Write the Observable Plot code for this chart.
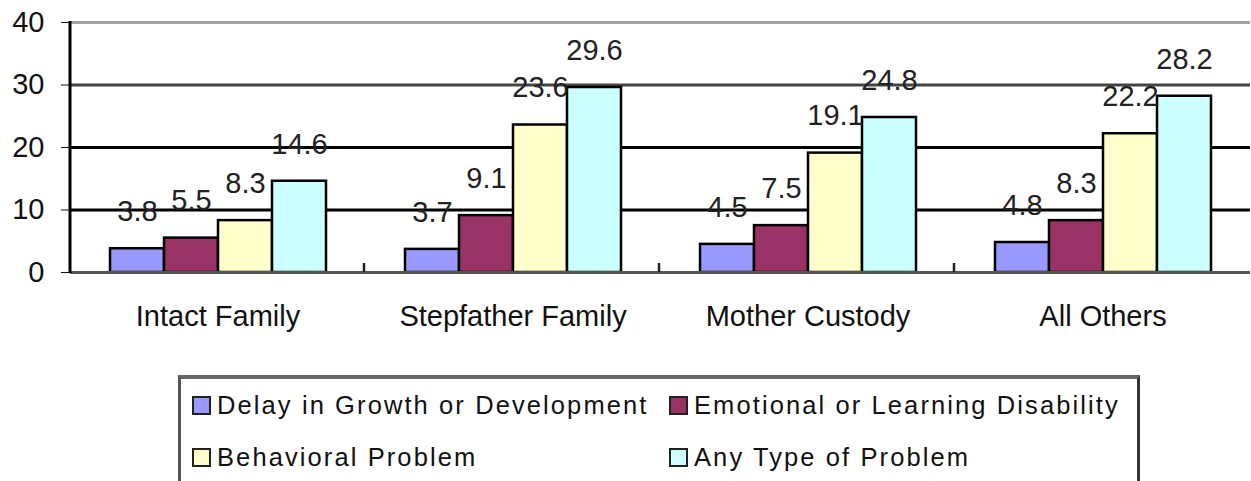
<!DOCTYPE html>
<html>
<head>
<meta charset="utf-8">
<script src="https://cdn.jsdelivr.net/npm/d3@7"></script>
<script src="https://cdn.jsdelivr.net/npm/@observablehq/plot@0.6"></script>
<style>
  html, body { margin: 0; padding: 0; background: #fff; overflow: hidden; }
  body { width: 1251px; height: 481px; font-family: "Liberation Sans", Arial, sans-serif; }
  #chart svg { display: block; }
  #legend {
    position: relative;
    margin-left: 178px;
    margin-top: 30px;
    width: 962px;
    height: 140px;
    border-top: 4px solid #666;
    border-left: 3px solid #555;
    border-right: 3px solid #333;
    box-sizing: border-box;
    display: grid;
    grid-template-columns: 477px auto;
    grid-template-rows: 44px 44px;
    row-gap: 8px;
    padding-left: 11px;
    padding-top: 4px;
  }
  .item { display: flex; align-items: center; font-size: 25.5px; letter-spacing: 2.1px; color: #111; white-space: nowrap; }
  .sw { width: 15px; height: 15px; border: 2px solid #222; margin-right: 6px; flex: none; }
</style>
</head>
<body>
<div id="chart"></div>
<div id="legend"></div>
<script>
// ---- data ----
const categories = ["Intact Family", "Stepfather Family", "Mother Custody", "All Others"];
const series = ["Delay in Growth or Development", "Emotional or Learning Disability", "Behavioral Problem", "Any Type of Problem"];
const delayValues = [3.8, 3.7, 4.5, 4.8];
const emotionalValues = [5.5, 9.1, 7.5, 8.3];
const behavioralValues = [8.3, 23.6, 19.1, 22.2];
const anyTypeValues = [14.6, 29.6, 24.8, 28.2];
const yTicks = [0, 10, 20, 30, 40];
const colors = ["#9999FF", "#993366", "#FFFFCC", "#CCFFFF"];

const seriesValues = [delayValues, emotionalValues, behavioralValues, anyTypeValues];
const rows = [];
categories.forEach((c, ci) => {
  series.forEach((s, si) => rows.push({category: c, series: s, value: seriesValues[si][ci]}));
});

// custom mark: y-axis line on first facet, small separator ticks at group boundaries
const edges = Plot.text(categories, {
  fx: d => d,
  text: d => d,
  frameAnchor: "bottom-left",
  render(index, scales, values, dims) {
    const g = d3.create("svg:g");
    let x0 = NaN;
    try { x0 = scales.x.range()[0]; } catch (e) {}
    if (!isFinite(x0)) x0 = dims.marginLeft;
    const yb = scales.y(yTicks[0]), yt = scales.y(yTicks[yTicks.length - 1]);
    for (const i of index) {
      if (i === 0) {
        g.append("line").attr("x1", x0).attr("x2", x0).attr("y1", yt - 1).attr("y2", yb + 1)
          .attr("stroke", "#000").attr("stroke-width", 3);
      } else {
        g.append("line").attr("x1", x0 - 1).attr("x2", x0 - 1).attr("y1", yb - 9).attr("y2", yb)
          .attr("stroke", "#222").attr("stroke-width", 2.5);
      }
    }
    return g.node();
  }
});

const chart = Plot.plot({
  width: 1251,
  height: 345,
  marginLeft: 69,
  marginRight: 0,
  marginTop: 22,
  marginBottom: 73,
  style: {fontFamily: "'Liberation Sans', Arial, sans-serif", fontSize: "29px", color: "#111", background: "#fff", overflow: "visible"},
  fx: {domain: categories, padding: 0, label: null, tickSize: 0, tickPadding: 33, axis: "bottom"},
  x: {domain: series, paddingInner: 0, paddingOuter: 0.728, axis: null},
  y: {domain: [0, 40], ticks: yTicks, tickSize: 9, tickPadding: 17, label: null, tickFormat: d => d},
  color: {domain: series, range: colors},
  marks: [
    Plot.ruleY([yTicks[4]], {stroke: "#a3a3a3", strokeWidth: 3}),
    Plot.ruleY([yTicks[3]], {stroke: "#444", strokeWidth: 3}),
    Plot.ruleY([yTicks[1], yTicks[2]], {stroke: "#000", strokeWidth: 3}),
    Plot.barY(rows, {fx: "category", x: "series", y: "value", fill: "series", stroke: "#000", strokeWidth: 2.5}),
    Plot.ruleY([yTicks[0]], {stroke: "#555", strokeWidth: 3}),
    edges,
    Plot.text(rows, {fx: "category", x: "series", y: "value", text: d => d.value.toFixed(1), dy: -37, fill: "#222", fontSize: 29})
  ]
});
document.getElementById("chart").appendChild(chart);

// legend
const legend = document.getElementById("legend");
series.forEach((s, i) => {
  const item = document.createElement("div");
  item.className = "item";
  const sw = document.createElement("span");
  sw.className = "sw";
  sw.style.background = colors[i];
  item.appendChild(sw);
  item.appendChild(document.createTextNode(s));
  legend.appendChild(item);
});
</script>
</body>
</html>
